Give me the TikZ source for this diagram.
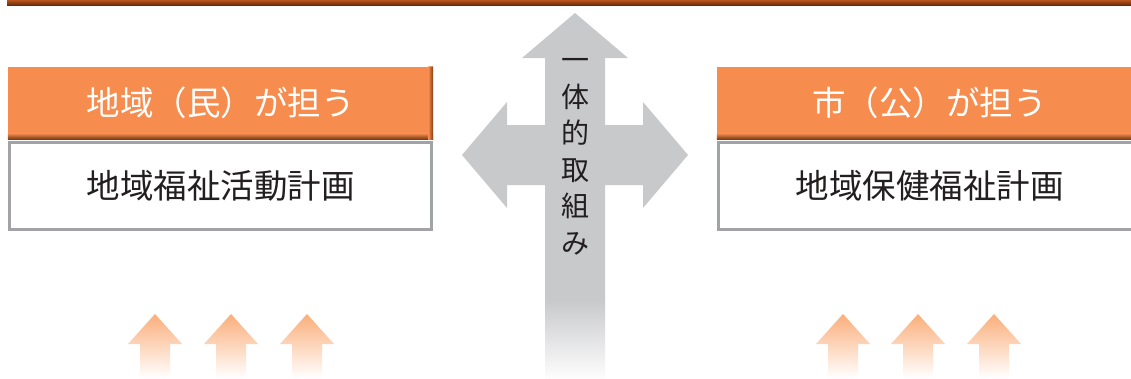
\documentclass[tikz,border=0pt]{standalone}
\usepackage{fontspec}
\newfontfamily\jpfont{Noto Sans CJK JP}
\definecolor{hdrorange}{HTML}{F68D4F}
\definecolor{hdrdark}{HTML}{7A3A12}
\definecolor{barlight}{HTML}{B9561F}
\definecolor{bardark}{HTML}{6E2B0C}
\definecolor{boxgray}{HTML}{A2A3A7}
\definecolor{arrgray}{HTML}{C8C9CB}
\definecolor{txtdark}{HTML}{231F20}
\definecolor{smallarr}{HTML}{FAAE7A}
\newcommand{\myuparrow}[1]{%
  \path[shade, top color=smallarr, bottom color=white, shading angle=0]
    (#1,314) -- (#1+27,344) -- (#1+15,344) -- (#1+15,378) -- (#1-15,378)
    -- (#1-15,344) -- (#1-27,344) -- cycle;}
\tikzset{
  hdr/.style={fill=hdrorange, minimum width=425pt, minimum height=72pt,
    inner sep=0pt, text=white, font=\jpfont\fontsize{33.5}{36}\selectfont},
  bodybox/.style={draw=boxgray, line width=3pt, fill=white, minimum width=422pt,
    minimum height=87pt, inner sep=0pt, text=txtdark,
    font=\jpfont\fontsize{33.5}{36}\selectfont},
  vtext/.style={text=txtdark, align=center, inner sep=0pt,
    font=\jpfont\fontsize{28}{36.5}\selectfont}
}
\begin{document}
\begin{tikzpicture}[x=1pt,y=-1pt]
\useasboundingbox (0,0) rectangle (1131,378);
\fill[white] (0,0) rectangle (1131,378);
% top bar
\shade[top color=barlight, bottom color=bardark] (7,0) rectangle (1131,5);
% left header and box
\node[hdr] (lh) at (220.5,103) {地域（民）が担う};
\shade[top color=hdrorange, bottom color=hdrdark] (lh.south west) ++(0,-6) rectangle (lh.south east);
\shade[left color=hdrorange, right color=hdrdark] (lh.north east) ++(-5,0) rectangle ([yshift=0pt]lh.south east);
\fill[white, opacity=0.35] (lh.north west) rectangle ([yshift=3pt]lh.north east);
\node[bodybox] (lb) at (220.5,186) {地域福祉活動計画};
% right header and box
\node[hdr] (rh) at (929.5,103) {市（公）が担う};
\shade[top color=hdrorange, bottom color=hdrdark] (rh.south west) ++(0,-6) rectangle (rh.south east);
\fill[white, opacity=0.35] (rh.north west) rectangle ([yshift=3pt]rh.north east);
\node[bodybox] (rb) at (929.5,186) {地域保健福祉計画};
% central cross arrow
\fill[arrgray] (575,13) -- (628,58) -- (605,58) -- (605,125) -- (643,125) -- (643,102)
  -- (688,155) -- (643,208) -- (643,185) -- (605,185) -- (605,301) -- (545,301)
  -- (545,185) -- (507,185) -- (507,208) -- (462,155) -- (507,102) -- (507,125)
  -- (545,125) -- (545,58) -- (522,58) -- cycle;
\shade[top color=arrgray, bottom color=white!96!arrgray] (545,300) rectangle (605,378);
\node[vtext] (vt) at (575,157) {一\\体\\的\\取\\組\\み};
% small arrows
\myuparrow{155}
\myuparrow{231}
\myuparrow{307}
\myuparrow{843}
\myuparrow{918}
\myuparrow{994}
\end{tikzpicture}
\end{document}
